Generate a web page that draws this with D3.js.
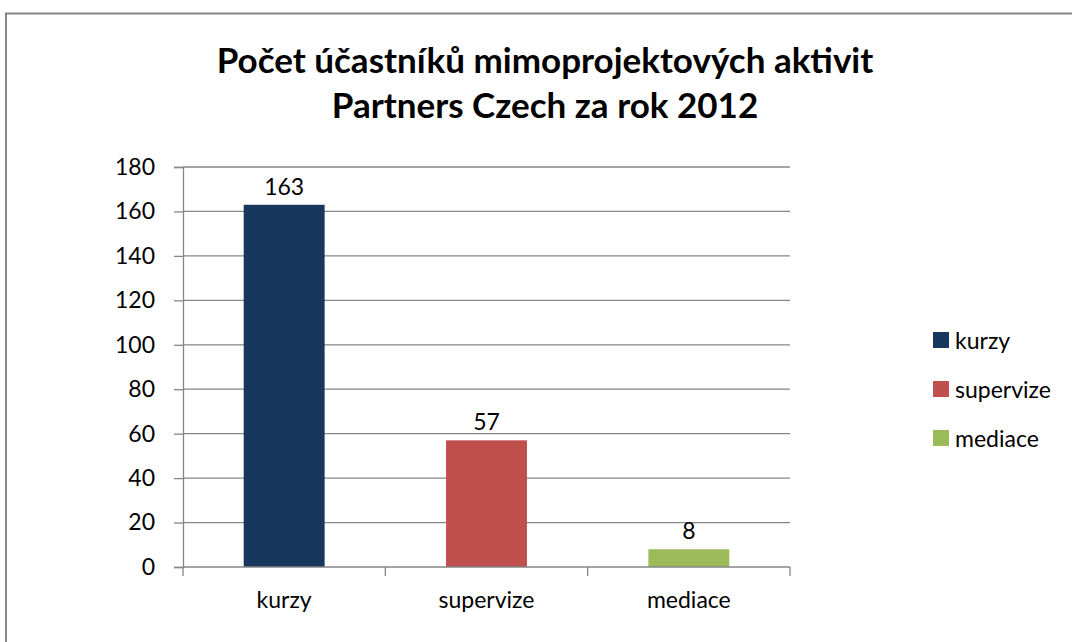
<!DOCTYPE html>
<html>
<head>
<meta charset="utf-8">
<script src="https://cdn.jsdelivr.net/npm/d3@7"></script>
<style>
  body { margin: 0; background: #fff; }
  svg { display: block; font-family: Lato, 'Open Sans', sans-serif; }
</style>
</head>
<body>
<svg id="chart" width="1072" height="642"></svg>
<script>
// data
const categories = ['kurzy', 'supervize', 'mediace']
const values = [163, 57, 8]
const colors = ['#17375E', '#C0504D', '#9BBB59']
const yTicks = [0, 20, 40, 60, 80, 100, 120, 140, 160, 180]
const titleLines = ['Počet účastníků mimoprojektových aktivit', 'Partners Czech za rok 2012']

const W = 1072
const H = 642
const plot = { left: 183, right: 790, top: 167, bottom: 567 }
const fontSize = 23

const svg = d3.select('#chart')

// outer frame (runs off the right and bottom edge)
svg.append('rect')
  .attr('x', 6).attr('y', 13.5)
  .attr('width', W + 20).attr('height', H + 20)
  .attr('fill', '#fff')
  .attr('stroke', '#868686')
  .attr('stroke-width', 2)

/// scales
const xScale = d3.scaleBand().domain(categories).range([plot.left, plot.right]).paddingInner(0).paddingOuter(0)
const yScale = d3.scaleLinear().domain([0, 180]).range([plot.bottom, plot.top])

/// gridlines
svg.append('g')
  .selectAll('line')
  .data(yTicks.filter(d => d > 0))
  .enter()
  .append('line')
  .attr('x1', plot.left).attr('x2', plot.right)
  .attr('y1', d => yScale(d)).attr('y2', d => yScale(d))
  .attr('stroke', '#868686')
  .attr('stroke-width', 1.3)

/// y axis
const yAxis = svg.append('g')
  .attr('transform', `translate(${plot.left},0)`)
  .call(d3.axisLeft(yScale).tickValues(yTicks).tickSize(9).tickPadding(19))
yAxis.select('.domain').attr('stroke', '#868686').attr('stroke-width', 1.3)
yAxis.selectAll('.tick line').attr('stroke', '#868686').attr('stroke-width', 1.3)
yAxis.selectAll('.tick text').attr('font-size', fontSize).attr('fill', '#000').attr('font-family', 'Lato, sans-serif')

/// bars
const barW = xScale.bandwidth() * 0.4
svg.append('g')
  .selectAll('rect')
  .data(values)
  .enter()
  .append('rect')
  .attr('x', (d, i) => xScale(categories[i]) + xScale.bandwidth() / 2 - barW / 2)
  .attr('y', d => yScale(d))
  .attr('width', barW)
  .attr('height', d => yScale(0) - yScale(d))
  .attr('fill', (d, i) => colors[i])

/// x axis
svg.append('line')
  .attr('x1', plot.left).attr('x2', plot.right)
  .attr('y1', plot.bottom).attr('y2', plot.bottom)
  .attr('stroke', '#868686').attr('stroke-width', 1.3)

const boundaries = categories.map(c => xScale(c)).concat([xScale(categories[categories.length - 1]) + xScale.bandwidth()])
svg.append('g')
  .selectAll('line')
  .data(boundaries)
  .enter()
  .append('line')
  .attr('x1', d => d).attr('x2', d => d)
  .attr('y1', plot.bottom).attr('y2', plot.bottom + 9)
  .attr('stroke', '#868686').attr('stroke-width', 1.3)

svg.append('g')
  .selectAll('text')
  .data(categories)
  .enter()
  .append('text')
  .attr('x', d => xScale(d) + xScale.bandwidth() / 2)
  .attr('y', plot.bottom + 41)
  .attr('text-anchor', 'middle')
  .attr('font-size', fontSize)
  .text(d => d)

/// value labels
svg.append('g')
  .selectAll('text')
  .data(values)
  .enter()
  .append('text')
  .attr('x', (d, i) => xScale(categories[i]) + xScale.bandwidth() / 2)
  .attr('y', d => yScale(d) - 10)
  .attr('text-anchor', 'middle')
  .attr('font-size', fontSize)
  .text(d => d)

/// legend
const legend = svg.append('g')
  .selectAll('g')
  .data(categories)
  .enter()
  .append('g')
  .attr('transform', (d, i) => `translate(933,${340 + i * 49})`)
legend.append('rect')
  .attr('x', 0).attr('y', -8)
  .attr('width', 16).attr('height', 16)
  .attr('fill', (d, i) => colors[i])
legend.append('text')
  .attr('x', 22).attr('y', 9)
  .attr('font-size', fontSize)
  .text(d => d)

/// title
svg.append('g')
  .selectAll('text')
  .data(titleLines)
  .enter()
  .append('text')
  .attr('x', 545)
  .attr('y', (d, i) => 73 + i * 45)
  .attr('text-anchor', 'middle')
  .attr('font-weight', 'bold')
  .attr('font-size', 35)
  .text(d => d)
</script>
</body>
</html>
